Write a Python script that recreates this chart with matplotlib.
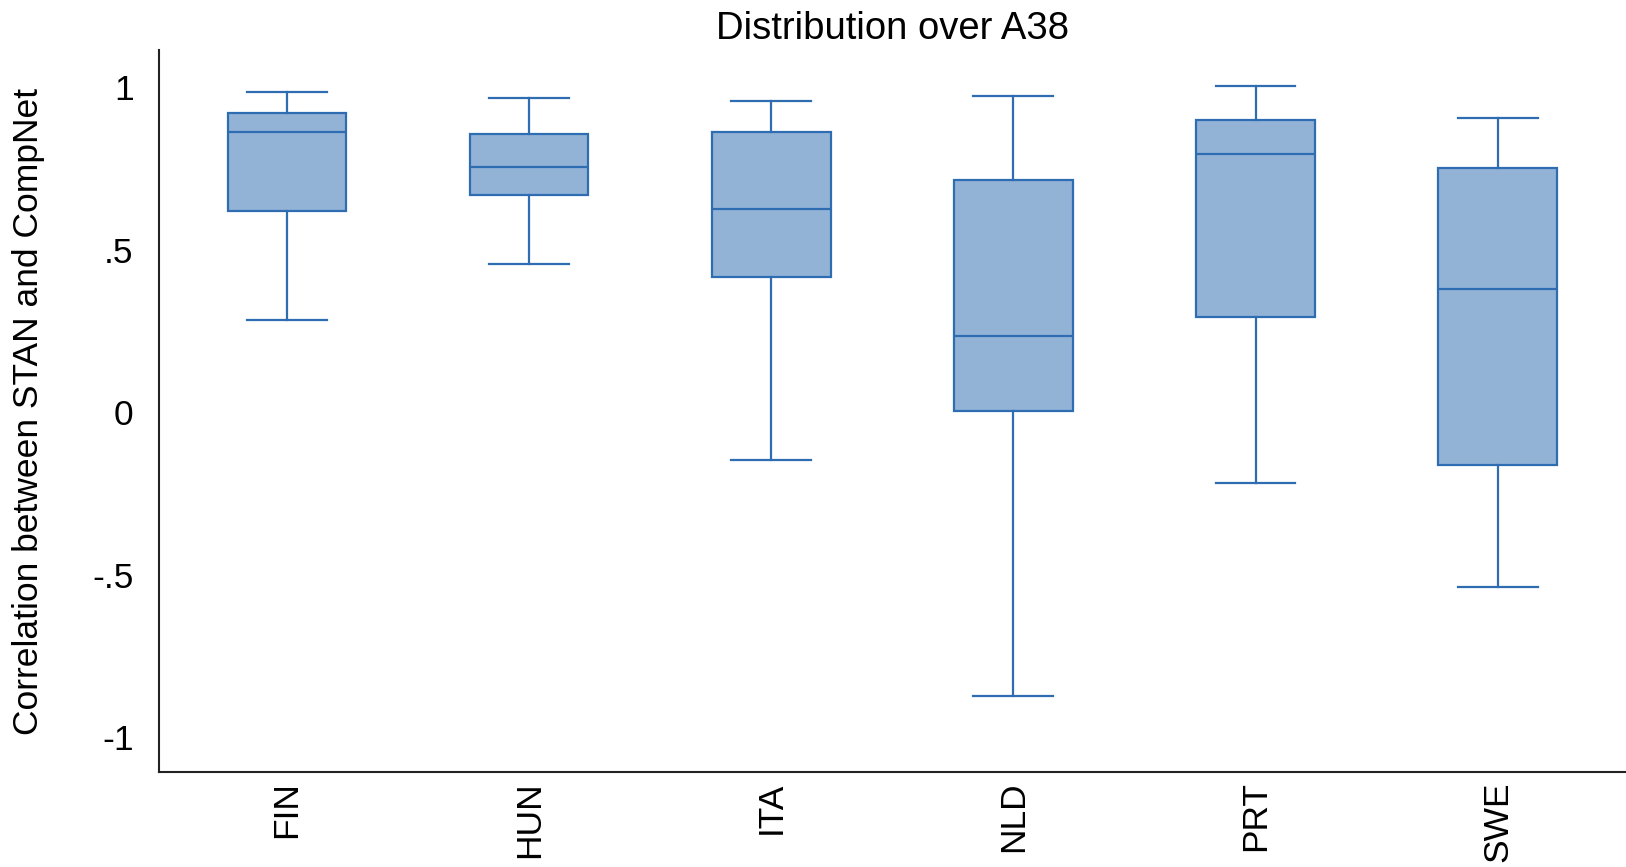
import matplotlib
matplotlib.use("Agg")
import matplotlib.pyplot as plt

plt.rcParams["font.family"] = ["Liberation Sans", "DejaVu Sans"]

# Box plot summary per country
countries = ["FIN", "HUN", "ITA", "NLD", "PRT", "SWE"]
whisker_low = [0.285, 0.458, -0.145, -0.872, -0.218, -0.537]
q1 = [0.620, 0.668, 0.416, 0.005, 0.292, -0.161]
median = [0.863, 0.754, 0.627, 0.234, 0.796, 0.381]
q3 = [0.920, 0.856, 0.863, 0.716, 0.900, 0.751]
whisker_high = [0.987, 0.968, 0.958, 0.974, 1.003, 0.907]

y_ticks = [-1, -0.5, 0, 0.5, 1]
y_ticklabels = ["-1", "-.5", "0", ".5", "1"]

fill = "#92b3d6"
edge = "#2f6db2"

stats = [
    {"label": c, "whislo": lo, "q1": a, "med": m, "q3": b, "whishi": hi, "fliers": []}
    for c, lo, a, m, b, hi in zip(countries, whisker_low, q1, median, q3, whisker_high)
]

fig = plt.figure(figsize=(16.26, 8.67), dpi=100)
ax = fig.add_axes([0.0976, 0.110, 0.9024, 0.832])

ax.bxp(
    stats,
    positions=range(len(countries)),
    widths=0.49,
    patch_artist=True,
    showfliers=False,
    boxprops=dict(facecolor=fill, edgecolor=edge, linewidth=1.6),
    medianprops=dict(color=edge, linewidth=1.6),
    whiskerprops=dict(color=edge, linewidth=1.6),
    capprops=dict(color=edge, linewidth=1.6),
    capwidths=0.33,
)

ax.set_xlim(-0.53, 5.53)
ax.set_ylim(-1.105, 1.114)
ax.set_yticks(y_ticks)
ax.set_yticklabels(y_ticklabels)
ax.set_xticks(range(len(countries)))
ax.set_xticklabels(countries, rotation=90)
ax.tick_params(axis="y", length=0, labelsize=25.5, pad=18)
ax.tick_params(axis="x", length=0, labelsize=25.5, pad=7)

for side in ("top", "right"):
    ax.spines[side].set_visible(False)
for side in ("left", "bottom"):
    ax.spines[side].set_linewidth(1.5)
    ax.spines[side].set_color("#222222")

ax.set_ylabel("Correlation between STAN and CompNet", fontsize=25.5, labelpad=34)
ax.set_title("Distribution over A38", fontsize=27.5, pad=8)

fig.savefig("out.png", dpi=100)
